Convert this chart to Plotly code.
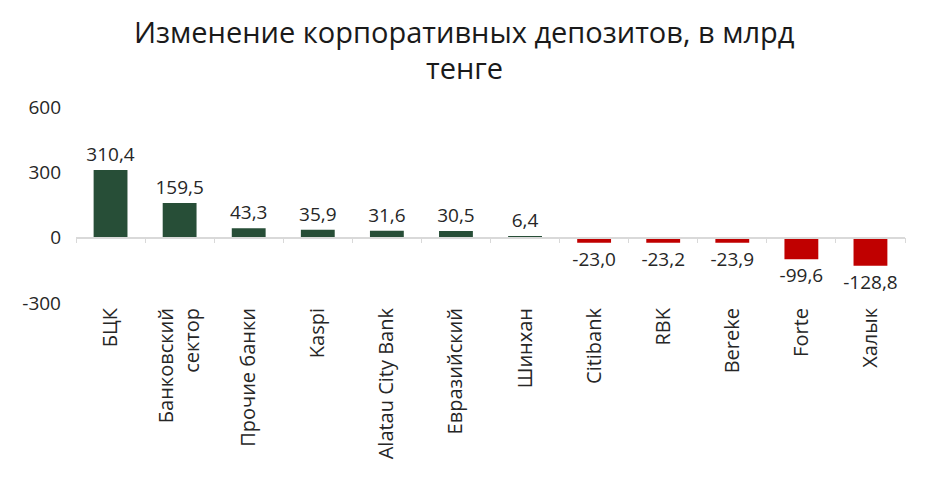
import plotly.graph_objects as go

categories = ["БЦК", "Банковский<br>сектор", "Прочие банки", "Kaspi", "Alatau City Bank",
              "Евразийский", "Шинхан", "Citibank", "RBK", "Bereke", "Forte", "Халык"]
values = [310.4, 159.5, 43.3, 35.9, 31.6, 30.5, 6.4, -23.0, -23.2, -23.9, -99.6, -128.8]
y_ticks = [600, 300, 0, -300]
y_tick_text = ["600", "300", "0", "-300"]
title_lines = ["Изменение корпоративных депозитов, в млрд", "тенге"]

GREEN = "#274E37"
RED = "#C00000"
colors = [GREEN if v >= 0 else RED for v in values]
FONT = "Open Sans"

# figure geometry (page shows figure offset by 8px body margin)
W, H = 920, 477
L, R, T, B = 68, 23, 99, 182
plot_h = H - T - B
plot_w = W - L - R

def py(fig_y):
    return 1 + (T - fig_y) / plot_h

fig = go.Figure()
fig.add_trace(go.Bar(
    x=categories, y=values, marker_color=colors, marker_line_width=0,
    texttemplate="%{y:.1f}", textposition="outside", cliponaxis=False,
    constraintext="none",
    textfont=dict(size=19, color="#262626", family=FONT),
))
# invisible trace to carry the zero-level category axis (line + tick marks)
fig.add_trace(go.Scatter(x=categories, y=values, mode="none", xaxis="x2",
                         hoverinfo="skip", showlegend=False))

fig.update_layout(
    width=W, height=H,
    margin=dict(l=L, r=R, t=T, b=B, autoexpand=False),
    paper_bgcolor="white", plot_bgcolor="white",
    separators=", ",
    showlegend=False,
    bargap=0.51,
    font=dict(family=FONT, color="#262626"),
    yaxis=dict(range=[-300, 600], tickvals=y_ticks, ticktext=y_tick_text,
               showgrid=False, zeroline=False, automargin=False,
               showline=False, tickfont=dict(size=19, color="#262626"), ticks="",
               ticklabelstandoff=14),
    xaxis=dict(showline=False, ticks="", showgrid=False, tickangle=-90, automargin=False,
               tickfont=dict(size=20, color="#262626"), categoryorder="array",
               categoryarray=categories),
    xaxis2=dict(overlaying="x", matches="x", anchor="free", position=1/3, automargin=False,
                showline=True, linecolor="#d9d9d9", linewidth=1.5,
                ticks="outside", tickson="boundaries", ticklen=5, tickcolor="#d9d9d9",
                showticklabels=False, showgrid=False, categoryorder="array",
                categoryarray=categories),
    annotations=[
        dict(text=title_lines[0], xref="paper", yref="paper", x=(456 - L) / plot_w,
             y=py(23), xanchor="center", yanchor="middle", showarrow=False,
             font=dict(size=29, color="#1a1a1a", family=FONT)),
        dict(text=title_lines[1], xref="paper", yref="paper", x=(456 - L) / plot_w,
             y=py(59), xanchor="center", yanchor="middle", showarrow=False,
             font=dict(size=29, color="#1a1a1a", family=FONT)),
    ],
)

fig.write_html("out.html")
